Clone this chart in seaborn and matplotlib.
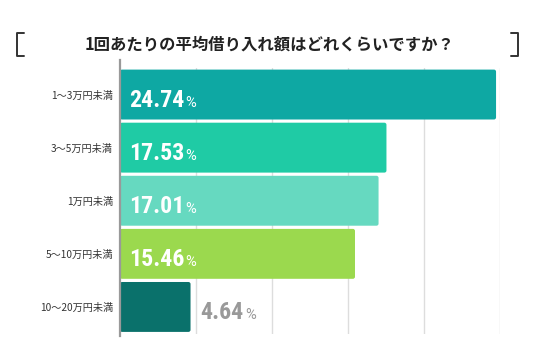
import matplotlib
matplotlib.use("Agg")
import matplotlib.pyplot as plt
import seaborn as sns
import pandas as pd
from matplotlib.patches import FancyBboxPatch
from matplotlib.lines import Line2D

categories = ["1〜3万円未満", "3〜5万円未満", "1万円未満", "5〜10万円未満", "10〜20万円未満"]
values = [24.74, 17.53, 17.01, 15.46, 4.64]
colors = ["#0ea8a3", "#1fcba5", "#66d9c0", "#9bd94e", "#0a716b"]
title = "1回あたりの平均借り入れ額はどれくらいですか？"
xticks = [5, 10, 15, 20, 25]

sns.set_theme(style="white")
plt.rcParams["font.family"] = ["Noto Sans CJK JP", "DejaVu Sans"]

df = pd.DataFrame({"cat": categories, "val": values})

fig = plt.figure(figsize=(5.36, 3.53), dpi=100)
ax = fig.add_axes([120 / 536, 1 - 333.5 / 353, 380 / 536, 265.5 / 353])

sns.barplot(data=df, x="val", y="cat", hue="cat", palette=colors, legend=False,
            saturation=1, width=0.94, ax=ax, zorder=3)

# swap the plain bars for slightly rounded ones
for p in list(ax.patches):
    x0, y0 = p.get_x(), p.get_y()
    w, h = p.get_width(), p.get_height()
    fc = p.get_facecolor()
    p.set_visible(False)
    ax.add_patch(FancyBboxPatch((x0, y0), w, h,
                                boxstyle="round,pad=0,rounding_size=0.14",
                                mutation_aspect=0.28, fc=fc, ec="none", zorder=3))

ax.set_xlim(0, 25)
ax.set_ylim(4.5, -0.5)
ax.set_xticks(xticks)
ax.set_xticklabels([])
ax.tick_params(axis="x", length=0)
ax.xaxis.grid(True, color="#dddddd", linewidth=1.0, zorder=0)
ax.set_xlabel("")
ax.set_ylabel("")
ax.tick_params(axis="y", length=0, labelsize=7.3, colors="#333333", pad=5)
for s in ["top", "right", "bottom"]:
    ax.spines[s].set_visible(False)
ax.spines["left"].set_color("#999999")
ax.spines["left"].set_linewidth(1.6)
ax.spines["left"].set_zorder(5)
ax.spines["left"].set_bounds(4.55, -0.65)

# value labels: number, then a small % on the same baseline
fig.canvas.draw()
px = 25 / 380  # data units per pixel along x
for i, v in enumerate(values):
    if v > 8:
        xpos, col = 9 * px, "white"
    else:
        xpos, col = v + 10 * px, "#999999"
    t = ax.text(xpos, i + 0.235, f"{v:.2f}", ha="left", va="baseline", fontsize=17.2,
                fontweight="bold", family=["Roboto Condensed", "Roboto", "DejaVu Sans"],
                color=col, zorder=6)
    bb = t.get_window_extent(renderer=fig.canvas.get_renderer())
    x1 = ax.transData.inverted().transform((bb.x1, bb.y0))[0]
    ax.text(x1 + 1 * px, i + 0.235, "%", ha="left", va="baseline", fontsize=10.5,
            family=["Roboto", "DejaVu Sans"], color=col, zorder=6)

# title and brackets
fig.text(270 / 536, 1 - 45 / 353, title, ha="center", va="center",
         fontsize=11.8, fontweight="bold", color="#222222")
bk = "#333333"
ytop, ybot = 1 - 33 / 353, 1 - 56 / 353
for xv, xh in [(17, 24), (518, 511)]:
    fig.add_artist(Line2D([xh / 536, xv / 536, xv / 536, xh / 536],
                          [ytop, ytop, ybot, ybot], color=bk, linewidth=1.4))

fig.savefig("out.png", dpi=100)
